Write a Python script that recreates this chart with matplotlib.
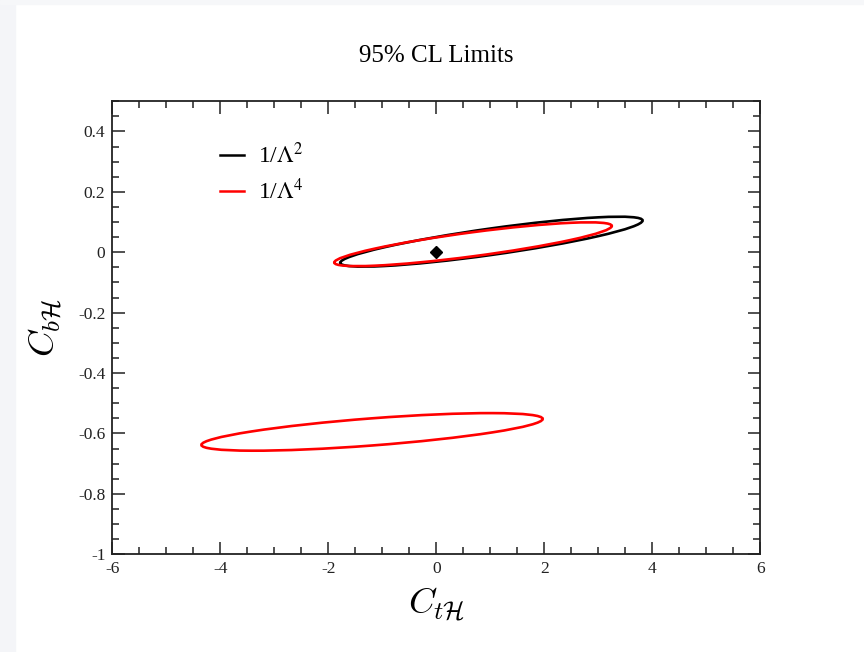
import matplotlib
matplotlib.use("Agg")
from matplotlib import pyplot as plt
from matplotlib.patches import Circle, Rectangle
from matplotlib.transforms import Affine2D
from matplotlib.lines import Line2D
from matplotlib.ticker import MultipleLocator, FuncFormatter

plt.rcParams['font.family'] = ['Liberation Serif', 'DejaVu Serif']
plt.rcParams['mathtext.fontset'] = 'stix'

# 95% CL contours, each one an ellipse:
# centre, offset from centre to the right-hand tip, half thickness at the centre
contour_labels = [r'1/$\Lambda^2$', r'1/$\Lambda^4$', None]
contour_colors = ['black', 'red', 'red']
center_x = [1.02, 0.68, -1.19]
center_y = [0.035, 0.0265, -0.595]
tip_dx = [2.80, 2.57, 3.16]
tip_dy = [0.070, 0.0605, 0.043]
half_thick = [0.044, 0.040, 0.045]

# best fit / SM point
point_x = [0.0]
point_y = [0.0]

fig = plt.figure(figsize=(8.64, 6.52), dpi=100)
ax = fig.add_axes([0.130, 0.150, 0.750, 0.6947])

# screenshot border (page background on the left / top)
fig.patches.append(Rectangle((0, 0), 15 / 864, 1, transform=fig.transFigure,
                             color='#f4f5f8', zorder=-10))
fig.patches.append(Rectangle((0, 1 - 4 / 652), 1, 4 / 652, transform=fig.transFigure,
                             color='#f6f7f9', zorder=-10))

for i in range(len(center_x)):
    m = [[tip_dx[i], 0, center_x[i]],
         [tip_dy[i], half_thick[i], center_y[i]],
         [0, 0, 1]]
    ell = Circle((0, 0), 1, fill=False, edgecolor=contour_colors[i], lw=1.9,
                 transform=Affine2D(m) + ax.transData)
    ax.add_patch(ell)

ax.plot(point_x, point_y, 'D', color='black', ms=6)

ax.set_xlim(-6, 6)
ax.set_ylim(-1, 0.5)
ax.xaxis.set_major_locator(MultipleLocator(2))
ax.xaxis.set_minor_locator(MultipleLocator(0.5))
ax.yaxis.set_major_locator(MultipleLocator(0.2))
ax.yaxis.set_minor_locator(MultipleLocator(0.05))
fmt = FuncFormatter(lambda v, p: f'{round(v, 3) + 0:g}')
ax.xaxis.set_major_formatter(fmt)
ax.yaxis.set_major_formatter(fmt)
ax.tick_params(which='both', direction='in', top=True, right=True, width=1.1,
               labelsize=12.5, colors='#222222')
ax.tick_params(which='major', length=9, pad=5)
ax.tick_params(which='minor', length=5)
for s in ax.spines.values():
    s.set_linewidth(1.3)
    s.set_color('#222222')

ax.set_title('95% CL Limits', fontsize=18, pad=28)
ax.set_xlabel(r'$C_{t\mathcal{H}}$', fontsize=26, math_fontfamily='cm', labelpad=6)
ax.set_ylabel(r'$C_{b\mathcal{H}}$', fontsize=26, math_fontfamily='cm', labelpad=10)

handles = [Line2D([], [], color=contour_colors[i], lw=1.8) for i in range(2)]
ax.legend(handles, contour_labels[:2], loc='upper left', bbox_to_anchor=(0.152, 0.93),
          frameon=False, fontsize=17, handlelength=1.0, handletextpad=0.6,
          labelspacing=0.45, borderaxespad=0)

fig.savefig('out.png', dpi=100)
